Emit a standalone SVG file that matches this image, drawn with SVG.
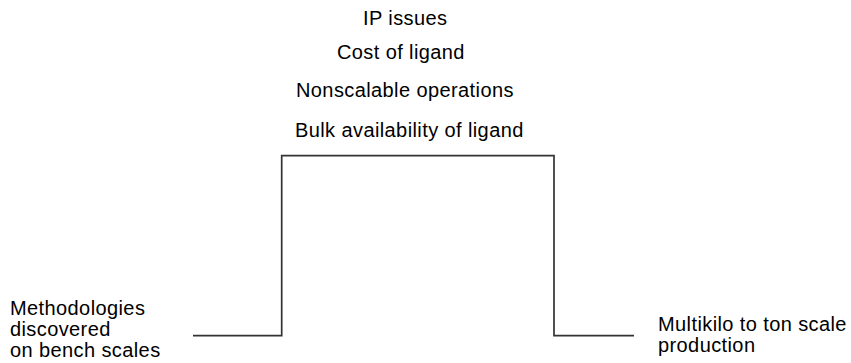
<svg xmlns="http://www.w3.org/2000/svg" width="851" height="363" viewBox="0 0 851 363">
  <style>
    .lbl { font-family: "Liberation Sans", Arial, Helvetica, sans-serif; font-size: 20px; letter-spacing: 0.4px; fill: #000; }
    .step { fill: none; stroke: #333; stroke-width: 1.7; stroke-linejoin: miter; }
  </style>
  <rect width="851" height="363" fill="#fff"/>

  <!-- barriers listed above the step -->
  <g id="barriers">
    <text class="lbl" x="363" y="25">IP issues</text>
    <text class="lbl" x="337" y="59">Cost of ligand</text>
    <text class="lbl" x="296" y="97">Nonscalable operations</text>
    <text class="lbl" x="295" y="137">Bulk availability of ligand</text>
  </g>

  <!-- step profile from bench scale to production -->
  <g id="connectors">
    <path class="step" d="M193 335.7 H281.7 V155.7 H554 V335.7 H634"/>
  </g>

  <g id="bench">
    <text class="lbl" x="10" y="315">Methodologies</text>
    <text class="lbl" x="10" y="336">discovered</text>
    <text class="lbl" x="10" y="357">on bench scales</text>
  </g>

  <g id="production">
    <text class="lbl" x="658" y="331">Multikilo to ton scale</text>
    <text class="lbl" x="658" y="352">production</text>
  </g>
</svg>
